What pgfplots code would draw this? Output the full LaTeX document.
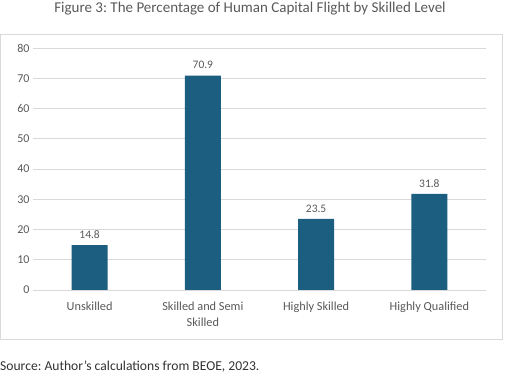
\documentclass[border=0pt]{standalone}
\usepackage{pgfplots}
\pgfplotsset{compat=1.18}
\usepackage{fontspec}
\setmainfont{Carlito}
\frenchspacing
\definecolor{barblue}{HTML}{1B5E80}
\definecolor{gridgray}{HTML}{D9D9D9}
\definecolor{txtgray}{HTML}{595959}
\begin{document}
\begin{tikzpicture}
\path[use as bounding box] (0,0) rectangle (529pt,382pt);
\draw[gridgray, line width=0.8pt] (0.5pt,43pt) rectangle (502pt,348pt);
\node[text=txtgray, font=\fontsize{15}{17}\selectfont] at (250pt,373pt) {Figure 3: The Percentage of Human Capital Flight by Skilled Level};
\node[anchor=west, inner sep=0pt, text=black!80, font=\fontsize{13.6}{15}\selectfont] at (0pt,15pt) {Source: Author’s calculations from BEOE, 2023.};
\begin{axis}[
  at={(33pt,92pt)}, anchor=south west,
  scale only axis, width=453pt, height=242pt,
  xmin=-0.5, xmax=3.5, ymin=0, ymax=80,
  ytick={0,10,...,80},
  xtick=data,
  xticklabels={Unskilled, {Skilled and Semi\\Skilled}, Highly Skilled, Highly Qualified},
  x tick label style={align=center, text=txtgray, font=\fontsize{12.3}{16}\selectfont, yshift=-4pt},
  y tick label style={text=txtgray, font=\fontsize{12}{14}\selectfont},
  /pgf/number format/assume math mode=true,
  axis line style={draw=none},
  tick style={draw=none},
  ymajorgrids, grid style={gridgray, line width=0.8pt},
  ybar, bar width=36pt,
  nodes near coords,
  nodes near coords style={text=txtgray, font=\fontsize{11.5}{13}\selectfont, /pgf/number format/fixed, /pgf/number format/precision=1, /pgf/number format/fixed zerofill, yshift=3pt},
]
\addplot[fill=barblue, draw=none] coordinates {(0,14.8) (1,70.9) (2,23.5) (3,31.8)};
\end{axis}
\end{tikzpicture}
\end{document}
